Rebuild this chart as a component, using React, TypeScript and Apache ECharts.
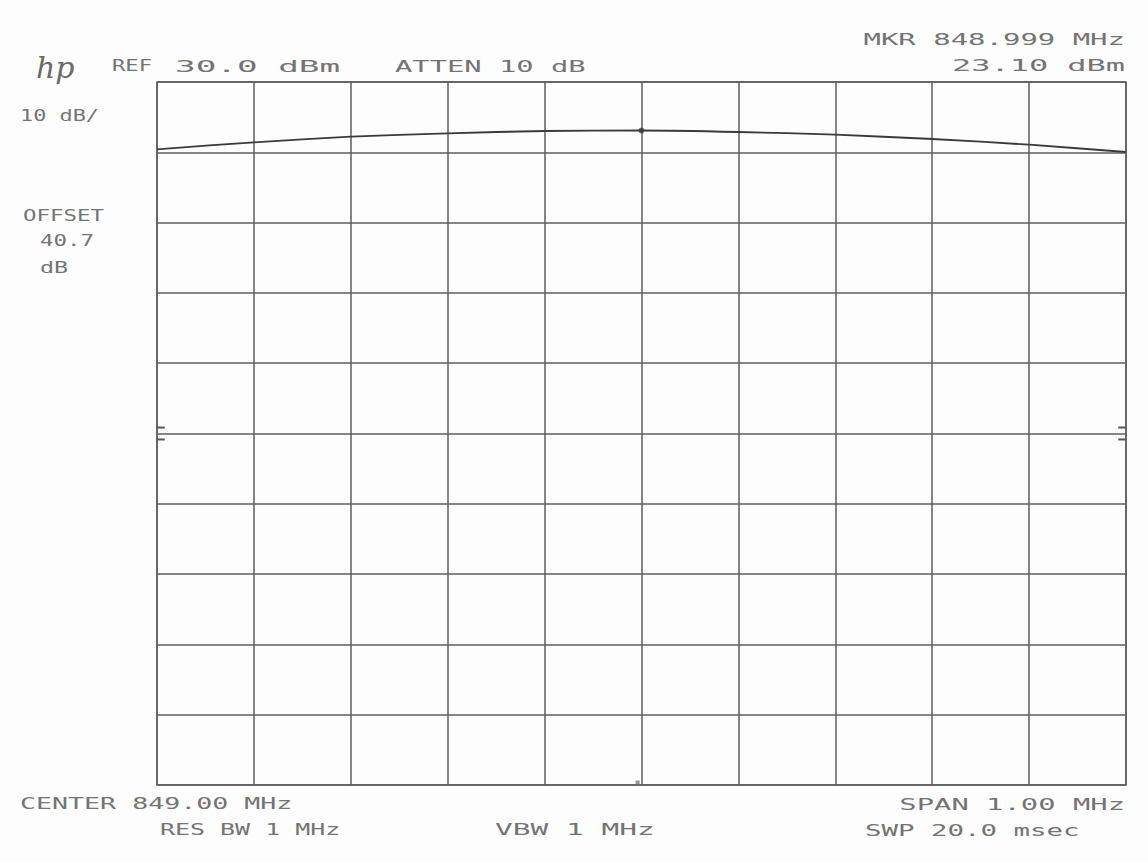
import React, { useEffect, useRef } from "react";
import * as echarts from "echarts";

// Frequency offset from centre (kHz), centre 849.00 MHz, span 1.00 MHz
const freqOffsetKHz = [-500, -400, -300, -200, -100, 0, 100, 200, 300, 400, 500];
// Trace level (dBm)
const traceLevel = [20.43, 21.42, 22.22, 22.7, 23.03, 23.1, 22.89, 22.5, 21.89, 21.08, 20.04];
// Marker
const markerOffsetKHz = 0;
const markerLevel = 23.1;
// Axis limits
const xMin = -500;
const xMax = 500;
const xInterval = 100;
const yMin = -70;
const yMax = 30;
const yInterval = 10;
// Display-line ticks on the edges
const dlTickLevels = [-19.15, -20.85];

const FONT = '"DejaVu Sans Mono", "Liberation Mono", monospace';
const ADV = 0.602 * 16;
const TEXT_COLOR = "#747474";

function label(text: string, x0: number, x1: number, yc: number, align: "left" | "right" = "left") {
  const sx = (x1 - x0) / (text.length * ADV - 1.5);
  return {
    type: "text",
    x: align === "left" ? x0 : x1,
    y: yc,
    scaleX: sx,
    silent: true,
    style: {
      text,
      fill: TEXT_COLOR,
      font: `16px ${FONT}`,
      textAlign: align,
      textVerticalAlign: "middle",
    },
  };
}

export default function App() {
  const ref = useRef<HTMLDivElement>(null);
  useEffect(() => {
    if (!ref.current) return;
    const chart = echarts.init(ref.current, undefined, { renderer: "svg" });
    const gridColor = "#5e5e5e";
    const tickSeries = dlTickLevels.flatMap((lv) => [
      {
        type: "line",
        data: [[xMin, lv], [xMin + 8, lv]],
        symbol: "none",
        lineStyle: { color: "#555", width: 2 },
        silent: true,
      },
      {
        type: "line",
        data: [[xMax - 8, lv], [xMax, lv]],
        symbol: "none",
        lineStyle: { color: "#555", width: 2 },
        silent: true,
      },
    ]);
    chart.setOption({
      animation: false,
      backgroundColor: "#fdfdfd",
      grid: {
        left: 157,
        top: 82,
        width: 969,
        height: 703,
        show: true,
        borderColor: gridColor,
        borderWidth: 1.5,
      },
      xAxis: {
        type: "value",
        min: xMin,
        max: xMax,
        interval: xInterval,
        axisLabel: { show: false },
        axisTick: { show: false },
        axisLine: { show: false },
        splitLine: { show: true, lineStyle: { color: gridColor, width: 1.5 } },
      },
      yAxis: {
        type: "value",
        min: yMin,
        max: yMax,
        interval: yInterval,
        axisLabel: { show: false },
        axisTick: { show: false },
        axisLine: { show: false },
        splitLine: { show: true, lineStyle: { color: gridColor, width: 1.5 } },
      },
      series: [
        {
          type: "line",
          data: freqOffsetKHz.map((f, i) => [f, traceLevel[i]]),
          symbol: "none",
          smooth: 0.25,
          lineStyle: { color: "#3a3a3a", width: 1.8 },
          silent: true,
        },
        {
          type: "scatter",
          data: [[markerOffsetKHz, markerLevel]],
          symbol: "circle",
          symbolSize: 6,
          itemStyle: { color: "#333" },
          silent: true,
        },
        {
          type: "scatter",
          data: [[markerOffsetKHz - 4, yMin + 0.35]],
          symbol: "rect",
          symbolSize: [4, 4],
          itemStyle: { color: "#777" },
          silent: true,
        },
        ...tickSeries,
      ],
      graphic: [
        {
          type: "text",
          x: 36,
          y: 67,
          silent: true,
          style: {
            text: "hp",
            fill: "#6a6a6a",
            font: 'italic 30px "DejaVu Serif", serif',
            textAlign: "left",
            textVerticalAlign: "middle",
          },
        },
        label("REF", 112, 150, 66),
        label("30.0 dBm", 175, 337, 66),
        label("ATTEN 10 dB", 395, 583, 66),
        label("MKR 848.999 MHz", 866, 1125, 40, "right"),
        label("23.10 dBm", 955, 1125, 66, "right"),
        label("10 dB/", 20, 97, 116),
        label("OFFSET", 23, 102, 216),
        label("40.7", 40, 92, 241),
        label("dB", 40, 66, 267),
        label("CENTER 849.00 MHz", 20, 290, 804),
        label("RES BW 1 MHz", 160, 338, 830),
        label("VBW 1 MHz", 495, 652, 830),
        label("SPAN 1.00 MHz", 902, 1125, 804, "right"),
        label("SWP 20.0 msec", 865, 1077, 830),
      ],
    });
    return () => chart.dispose();
  }, []);
  return (
    <div
      ref={ref}
      style={{ position: "absolute", left: 0, top: 0, width: 1148, height: 862 }}
    />
  );
}
